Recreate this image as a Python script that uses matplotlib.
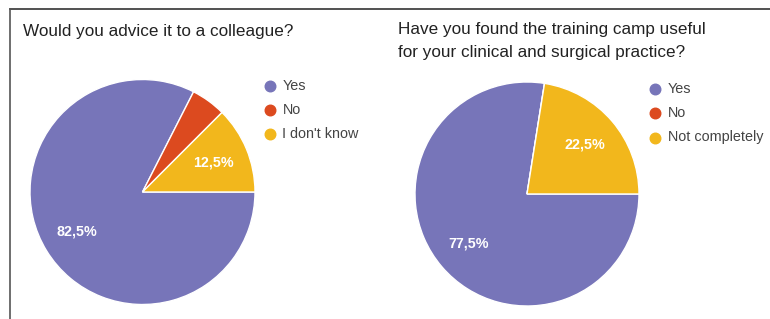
import matplotlib
matplotlib.use("Agg")
import matplotlib.pyplot as plt
from matplotlib.lines import Line2D

plt.rcParams['font.family'] = ['Liberation Sans', 'DejaVu Sans']

W, H = 770, 319
DPI = 100

# Data
titles = [["Would you advice it to a colleague?"],
          ["Have you found the training camp useful",
           "for your clinical and surgical practice?"]]
labels_left = ["Yes", "No", "I don't know"]
values_left = [82.5, 5.0, 12.5]
labels_right = ["Yes", "No", "Not completely"]
values_right = [77.5, 0.0, 22.5]
colors = ["#7775b9", "#dc4a1f", "#f2b71c"]

fig = plt.figure(figsize=(W / DPI, H / DPI), dpi=DPI)
fig.patch.set_facecolor("white")


def fx(px):
    return px / W


def fy(py):
    return 1 - py / H


def pct_fmt(p):
    if p < 8:
        return ""
    return f"{p:.1f}%".replace(".", ",")


def draw_pie(cx, cy, r, values, labels, title_lines, title_x, title_y, leg_x, leg_y0, leg_dy):
    ax = fig.add_axes([fx(cx - r), fy(cy + r), (2 * r) / W, (2 * r) / H])
    wedges, texts, autotexts = ax.pie(
        values, colors=colors, startangle=0, counterclock=False,
        autopct=pct_fmt, pctdistance=0.68, radius=1.0,
        wedgeprops=dict(edgecolor="white", linewidth=1.0),
        textprops=dict(color="white", fontsize=10.3, fontweight="bold"))
    ax.set_xlim(-1.0, 1.0)
    ax.set_ylim(-1.0, 1.0)
    ax.set_aspect("equal")
    ax.axis("off")
    for k, line in enumerate(title_lines):
        fig.text(fx(title_x), fy(title_y + k * 23.5), line, fontsize=12.3,
                 color="#222222", ha="left", va="baseline")
    for i, lab in enumerate(labels):
        y = leg_y0 + i * leg_dy
        fig.add_artist(Line2D([fx(leg_x)], [fy(y)], marker="o", markersize=7.6,
                              markerfacecolor=colors[i], markeredgecolor=colors[i],
                              linestyle="none", transform=fig.transFigure))
        fig.text(fx(leg_x + 12.5), fy(y), lab, fontsize=10.4, color="#444444",
                 ha="left", va="center")


draw_pie(142.5, 192, 112.5, values_left, labels_left, titles[0], 23, 36,
         270, 85.5, 24)
draw_pie(527, 194, 112, values_right, labels_right, titles[1], 398, 34,
         655, 88.5, 24.5)

# Frame lines (top and left)
fig.add_artist(Line2D([fx(9.5), 1.0], [fy(8.5), fy(8.5)], color="#333333",
                      linewidth=1.2, transform=fig.transFigure))
fig.add_artist(Line2D([fx(9.5), fx(9.5)], [fy(8.5), 0.0], color="#555555",
                      linewidth=1.2, transform=fig.transFigure))

fig.savefig("out.png", dpi=DPI, facecolor="white")
